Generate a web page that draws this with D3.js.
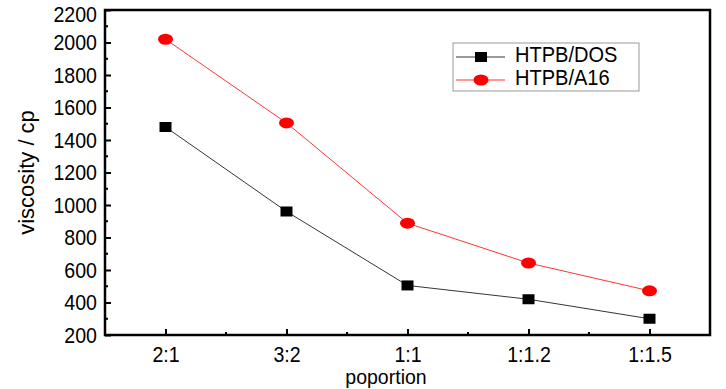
<!DOCTYPE html>
<html>
<head>
<meta charset="utf-8">
<script src="https://cdn.jsdelivr.net/npm/d3@7"></script>
<style>
  body { margin: 0; background: #fff; }
  text { font-family: "Liberation Sans", Arial, sans-serif; }
</style>
</head>
<body>
<script>
// categories and series
var categories = ["2:1", "3:2", "1:1", "1:1.2", "1:1.5"];
var dosValues = [1480, 960, 505, 420, 300];
var a16Values = [2020, 1505, 888, 643, 472];
var yTicks = [200, 400, 600, 800, 1000, 1200, 1400, 1600, 1800, 2000, 2200];

var w = 726, h = 389;
var mLeft = 105, mRight = 710, mTop = 10, mBottom = 335;

var svg = d3.select("body").append("svg")
    .attr("width", w)
    .attr("height", h);

// the original font is a bit narrower than Liberation Sans
function squeeze(sel, k) {
    sel.each(function() {
        var len = this.getComputedTextLength();
        d3.select(this).attr("textLength", len * k).attr("lengthAdjust", "spacingAndGlyphs");
    });
}

var x = d3.scaleLinear().domain([-0.5, categories.length - 0.5]).range([mLeft, mRight]);
var y = d3.scaleLinear().domain([200, 2200]).range([mBottom, mTop]);

// frame
svg.append("rect")
    .attr("x", mLeft).attr("y", mTop)
    .attr("width", mRight - mLeft).attr("height", mBottom - mTop)
    .attr("fill", "none").attr("stroke", "#000").attr("stroke-width", 2.5);

// y axis (ticks inward)
var yAxis = d3.axisLeft(y).tickValues(yTicks).tickFormat(d3.format("d"))
    .tickSize(-6).tickPadding(8);
var gy = svg.append("g").attr("transform", "translate(" + mLeft + ",0)").call(yAxis);
gy.select(".domain").remove();
gy.selectAll("line").attr("stroke-width", 2);
gy.selectAll("text").attr("font-size", 22).attr("fill", "#000").call(squeeze, 0.89);
// top label sits a little lower in the original, fully inside the picture
gy.selectAll("text").filter(function(d) { return d === 2200; }).attr("dy", "0.5em");

// y minor ticks
svg.selectAll(".yminor")
    .data(d3.range(300, 2200, 200))
    .enter().append("line")
    .attr("x1", mLeft).attr("x2", mLeft + 3)
    .attr("y1", function(d) { return y(d); })
    .attr("y2", function(d) { return y(d); })
    .attr("stroke", "#000").attr("stroke-width", 2);

// x axis
var xAxis = d3.axisBottom(x).tickValues(d3.range(categories.length))
    .tickFormat(function(i) { return categories[i]; })
    .tickSize(-6).tickPadding(11);
var gx = svg.append("g").attr("transform", "translate(0," + mBottom + ")").call(xAxis);
gx.select(".domain").remove();
gx.selectAll("line").attr("stroke-width", 2);
gx.selectAll("text").attr("font-size", 22).attr("fill", "#000").call(squeeze, 0.89);

// x minor ticks
svg.selectAll(".xminor")
    .data(d3.range(0.5, categories.length - 1, 1))
    .enter().append("line")
    .attr("x1", function(d) { return x(d); })
    .attr("x2", function(d) { return x(d); })
    .attr("y1", mBottom).attr("y2", mBottom - 3)
    .attr("stroke", "#000").attr("stroke-width", 2);

// axis titles
svg.append("text")
    .attr("transform", "translate(34," + ((mTop + mBottom) / 2) + ") rotate(-90)")
    .attr("text-anchor", "middle")
    .attr("font-size", 22)
    .text("viscosity / cp");

svg.append("text")
    .attr("x", 386).attr("y", 384)
    .attr("text-anchor", "middle")
    .attr("font-size", 21)
    .text("poportion")
    .call(squeeze, 0.93);

var line = d3.line()
    .x(function(d, i) { return x(i); })
    .y(function(d) { return y(d); });

// HTPB/DOS
svg.append("path").datum(dosValues)
    .attr("d", line).attr("fill", "none")
    .attr("stroke", "#000").attr("stroke-width", 0.8);
svg.selectAll(".dos")
    .data(dosValues)
    .enter().append("rect")
    .attr("x", function(d, i) { return x(i) - 6; })
    .attr("y", function(d) { return y(d) - 5; })
    .attr("width", 12).attr("height", 10)
    .attr("fill", "#000");

// HTPB/A16
svg.append("path").datum(a16Values)
    .attr("d", line).attr("fill", "none")
    .attr("stroke", "#f00").attr("stroke-width", 0.8);
svg.selectAll(".a16")
    .data(a16Values)
    .enter().append("ellipse")
    .attr("cx", function(d, i) { return x(i); })
    .attr("cy", function(d) { return y(d); })
    .attr("rx", 7.5).attr("ry", 5.5)
    .attr("fill", "#f00");

// legend
var lg = svg.append("g");
lg.append("rect")
    .attr("x", 453).attr("y", 43).attr("width", 186).attr("height", 48)
    .attr("fill", "#fff").attr("stroke", "#999").attr("stroke-width", 1);

lg.append("line").attr("x1", 456).attr("x2", 505).attr("y1", 57).attr("y2", 57)
    .attr("stroke", "#000").attr("stroke-width", 0.8);
lg.append("rect").attr("x", 475).attr("y", 52).attr("width", 12).attr("height", 10).attr("fill", "#000");
lg.append("text").attr("x", 515).attr("y", 62).attr("font-size", 22).text("HTPB/DOS").call(squeeze, 0.91);

lg.append("line").attr("x1", 456).attr("x2", 505).attr("y1", 80).attr("y2", 80)
    .attr("stroke", "#f00").attr("stroke-width", 0.8);
lg.append("ellipse").attr("cx", 481).attr("cy", 80).attr("rx", 7.5).attr("ry", 5.5).attr("fill", "#f00");
lg.append("text").attr("x", 515).attr("y", 85).attr("font-size", 22).text("HTPB/A16").call(squeeze, 0.91);
</script>
</body>
</html>
